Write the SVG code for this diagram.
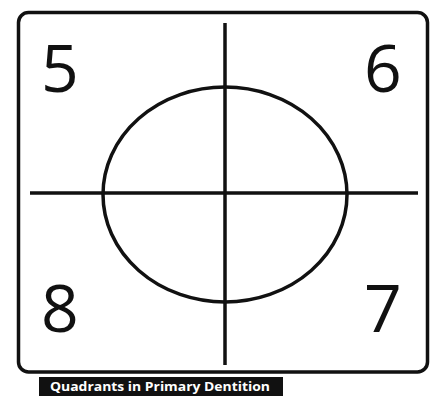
<svg xmlns="http://www.w3.org/2000/svg" width="434" height="396" viewBox="0 0 434 396">
<style>
.ln{stroke:#111;stroke-width:3.5;fill:none}
.num{font-family:"Open Sans","Liberation Sans",sans-serif;font-size:66px;fill:#111}
.cap{font-family:"Open Sans","Liberation Sans",sans-serif;font-size:13px;font-weight:bold;fill:#fff}
</style>
<rect width="434" height="396" fill="#fff"/>
<g id="frame"><rect class="ln" x="18.5" y="12.5" width="409" height="359.5" rx="10" ry="10"/></g>
<g id="connectors">
<line class="ln" x1="225" y1="23" x2="225" y2="365"/>
<line class="ln" x1="30" y1="193" x2="418" y2="193"/>
</g>
<g id="arch"><ellipse class="ln" cx="225" cy="194.5" rx="122" ry="107.5"/></g>
<g id="q5"><text class="num" x="41" y="92">5</text></g>
<g id="q6"><text class="num" x="364" y="92">6</text></g>
<g id="q8"><text class="num" x="41" y="332">8</text></g>
<g id="q7"><text class="num" x="364" y="332">7</text></g>
<g id="caption">
<rect x="39" y="377" width="244" height="19" fill="#111"/>
<text class="cap" x="50" y="391" textLength="220" lengthAdjust="spacingAndGlyphs">Quadrants in Primary Dentition</text>
</g>
</svg>
